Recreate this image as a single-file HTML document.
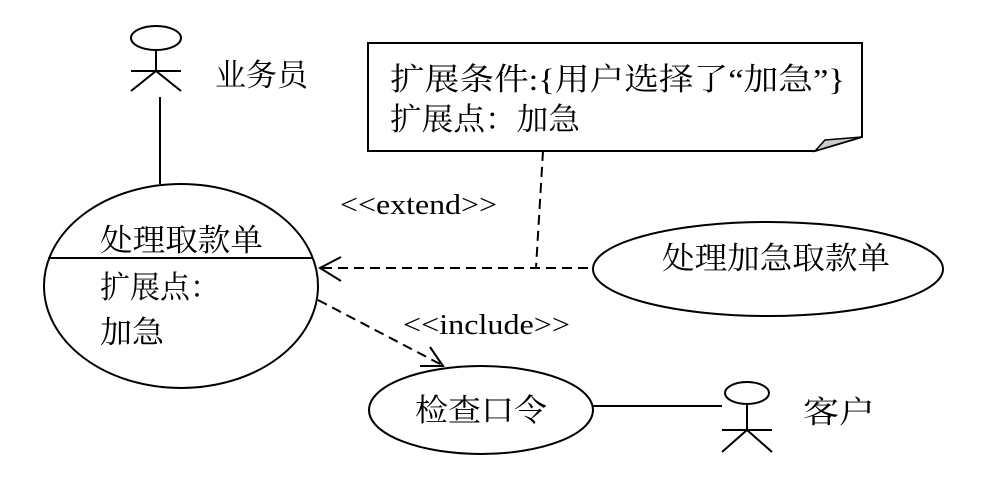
<!DOCTYPE html>
<html><head><meta charset="utf-8"><style>
html,body{margin:0;padding:0;background:#fff;}
svg text{font-family:"Liberation Serif","Noto Serif CJK SC",serif;fill:#000;}
</style></head><body>
<svg width="988" height="479" viewBox="0 0 988 479" xmlns="http://www.w3.org/2000/svg">
<g stroke="#000" stroke-width="2" fill="none">
<ellipse cx="156" cy="38" rx="25" ry="12"/>
<line x1="156" y1="50" x2="156" y2="71"/>
<line x1="131" y1="71" x2="181" y2="71"/>
<line x1="156" y1="71" x2="131" y2="91"/>
<line x1="156" y1="71" x2="181" y2="91"/>
<line x1="160" y1="97" x2="160" y2="184"/>
<ellipse cx="181" cy="286" rx="137" ry="102"/>
<line x1="48" y1="258" x2="313" y2="258"/>
<path d="M368 43 H862 V137 L815 151 H368 Z" fill="#fff"/>
<path d="M815 151 L825 140 L862 137 Z" fill="#ccc" stroke-width="1.5"/>
<g stroke-dasharray="10,6">
<line x1="543" y1="151" x2="536" y2="268"/>
<line x1="322" y1="268" x2="594" y2="268"/>
<line x1="318" y1="300" x2="440" y2="364"/>
</g>
<polyline points="341,257 320,268 341,281"/>
<polyline points="420,366 443,366 430,347"/>
<ellipse cx="768" cy="269" rx="175" ry="47"/>
<ellipse cx="481" cy="410" rx="112" ry="44"/>
<line x1="593" y1="406" x2="722" y2="406"/>
<ellipse cx="747" cy="393" rx="22" ry="11"/>
<line x1="747" y1="404" x2="747" y2="430"/>
<line x1="722" y1="430" x2="772" y2="430"/>
<line x1="747" y1="430" x2="722" y2="452"/>
<line x1="747" y1="430" x2="772" y2="452"/>
</g>
<g font-size="31">
<text x="215" y="86" textLength="93" lengthAdjust="spacingAndGlyphs">业务员</text>
<text x="100" y="251" textLength="163" lengthAdjust="spacingAndGlyphs">处理取款单</text>
<text x="100" y="298" textLength="120" lengthAdjust="spacingAndGlyphs">扩展点：</text>
<text x="100" y="343" textLength="64" lengthAdjust="spacingAndGlyphs">加急</text>
<text x="390" y="90" textLength="455" lengthAdjust="spacingAndGlyphs">扩展条件:{用户选择了“加急”}</text>
<text x="390" y="130" textLength="190" lengthAdjust="spacingAndGlyphs">扩展点：加急</text>
<text x="662" y="269" textLength="228" lengthAdjust="spacingAndGlyphs">处理加急取款单</text>
<text x="415" y="421" textLength="132" lengthAdjust="spacingAndGlyphs">检查口令</text>
<text x="803" y="423" textLength="72" lengthAdjust="spacingAndGlyphs">客户</text>
</g>
<g font-size="28">
<text x="340" y="214" textLength="157" lengthAdjust="spacingAndGlyphs">&lt;&lt;extend&gt;&gt;</text>
<text x="403" y="334" textLength="167" lengthAdjust="spacingAndGlyphs">&lt;&lt;include&gt;&gt;</text>
</g>
</svg>
</body></html>
